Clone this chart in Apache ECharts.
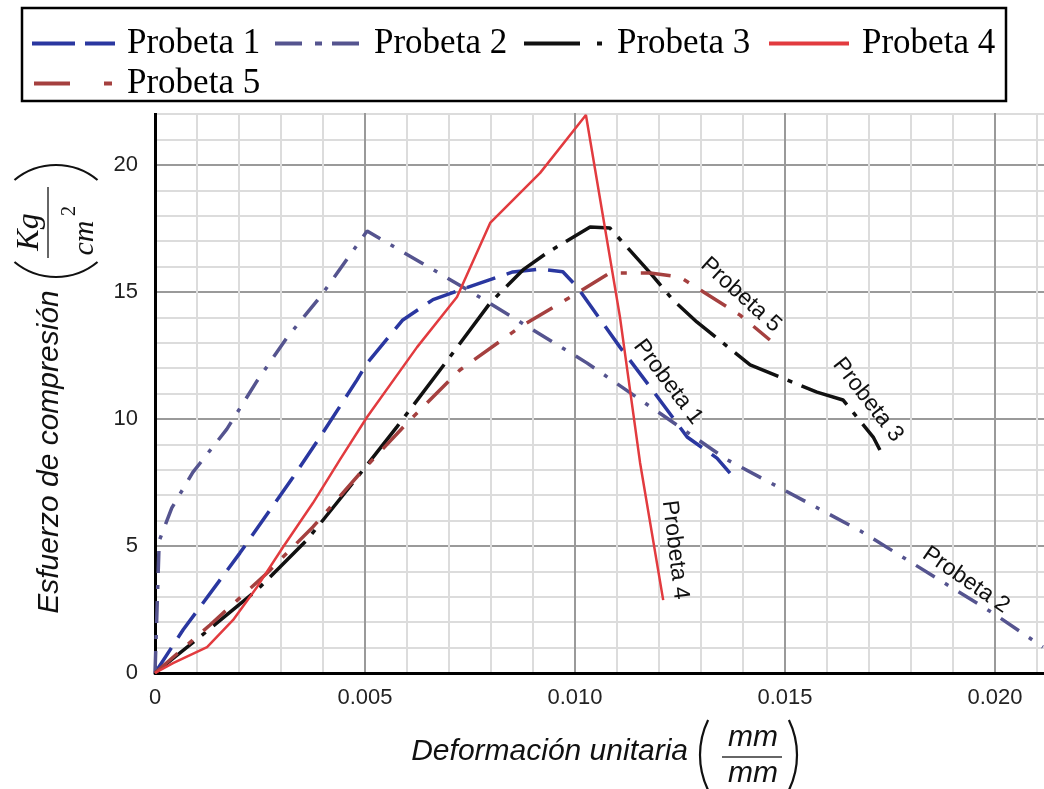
<!DOCTYPE html>
<html>
<head>
<meta charset="utf-8">
<script src="https://cdn.jsdelivr.net/npm/echarts@6/dist/echarts.min.js"></script>
<style>
html,body{margin:0;padding:0;background:#fff;}
#chart{width:1044px;height:789px;}
</style>
</head>
<body>
<div id="chart"></div>
<script>
// ---- Data (strain mm/mm, stress Kg/cm2) ----
const seriesNames = ['Probeta 1','Probeta 2','Probeta 3','Probeta 4','Probeta 5'];
const xTickLabels = ['0','0.005','0.010','0.015','0.020'];
const yTickLabels = ['0','5','10','15','20'];

const probeta1 = [[0,0],[0.00067,1.7],[0.00202,4.72],[0.00329,7.72],[0.00393,9.29],[0.00481,11.54],[0.00505,12.2],[0.0059,13.9],[0.00662,14.7],[0.00726,15.08],[0.00852,15.79],[0.00917,15.9],[0.00971,15.8],[0.01005,15.2],[0.01107,12.83],[0.01179,11.26],[0.01267,9.29],[0.01338,8.46],[0.01369,7.87]];
const probeta2 = [[0,0],[0.0001,5.2],[0.0004,6.5],[0.0009,7.9],[0.00171,9.6],[0.00243,11.5],[0.00314,13.2],[0.00393,14.8],[0.00505,17.4],[0.00757,14.96],[0.01029,12.2],[0.01362,8.4],[0.01679,5.6],[0.01995,2.36],[0.02114,1.02]];
const probeta3 = [[0,0],[0.00107,1.42],[0.00243,3.27],[0.00362,5.24],[0.00471,7.48],[0.00576,9.69],[0.00702,12.44],[0.00798,14.57],[0.00876,15.87],[0.00933,16.54],[0.01036,17.56],[0.01083,17.52],[0.01179,15.75],[0.01233,14.69],[0.0129,13.82],[0.01417,12.13],[0.01576,11.06],[0.01638,10.75],[0.0171,9.29],[0.01726,8.78]];
const probeta4 = [[0,0],[0.00043,0.39],[0.00124,1.02],[0.00186,2.09],[0.00243,3.39],[0.00305,4.96],[0.00376,6.69],[0.0044,8.39],[0.00505,10.08],[0.00624,12.83],[0.00719,14.8],[0.00798,17.72],[0.00917,19.69],[0.01026,21.97],[0.01107,14.02],[0.01155,8.27],[0.0121,2.87]];
const probeta5 = [[0,0],[0.00131,1.89],[0.00267,3.94],[0.00376,5.75],[0.00495,7.99],[0.00607,9.96],[0.00726,11.93],[0.00869,13.62],[0.01005,14.96],[0.01083,15.75],[0.01179,15.75],[0.0125,15.59],[0.01393,14.09],[0.01464,13.11]];

const seriesData = [probeta1, probeta2, probeta3, probeta4, probeta5];
const colors = ['#2a37a0','#55548f','#111111','#e23b3f','#a5403f'];
const widths = [3.5,3.5,3.5,2.5,3.5];
const dashes = [[30,12],[22,12,4,12],[50,10,5,10],'solid',[30,14,6,14]];
const legendDashes = [[43,10,30,100],[27,13,7,10,27,100],[56,17,5,100],[80,100],[36,34,8,100]];
const legendPos = [[30,125,26],[273,372,26],[522,615,26],[767,860,26],[32,125,66]];

const chart = echarts.init(document.getElementById('chart'), null, {renderer:'canvas'});

const sansF = '"Liberation Sans", Arial, sans-serif';
const serifF = '"Liberation Serif", "Times New Roman", serif';

function xFmt(v){
  const i = Math.round(v/0.005);
  if (Math.abs(v - i*0.005) > 1e-9) return '';
  return xTickLabels[i] !== undefined ? xTickLabels[i] : '';
}
function yFmt(v){
  const i = Math.round(v/5);
  if (Math.abs(v - i*5) > 1e-9) return '';
  return yTickLabels[i] !== undefined ? yTickLabels[i] : '';
}

const legends = seriesNames.map((n,i)=>({
  data:[n],
  left: legendPos[i][0],
  top: legendPos[i][2],
  padding: 0,
  itemWidth: legendPos[i][1]-5-legendPos[i][0],
  itemHeight: 14,
  selectedMode: false,
  itemStyle: {opacity: 0, color:'rgba(0,0,0,0)', borderWidth:0},
  lineStyle: {type: legendDashes[i], width: 4},
  textStyle: {fontFamily: serifF, fontSize: 35, color:'#000'}
}));

function txt(text, x, y, rot, font, extra){
  return Object.assign({
    type:'text', x:x, y:y, rotation: rot||0, z: 10,
    style:{text:text, font:font, fill:'#111', align:'center', verticalAlign:'middle'}
  }, extra||{});
}

const D = Math.PI/180;

const option = {
  animation: false,
  backgroundColor: '#fff',
  grid: {left:155, top:38, width:1050, height:635, containLabel:false, outerBoundsMode:'none'},
  legend: legends,
  xAxis: {
    type:'value', min:0, max:0.025, interval:0.005,
    axisLine:{show:true, onZero:false, lineStyle:{color:'#000', width:3}},
    axisTick:{show:false},
    axisLabel:{formatter:xFmt, fontFamily:sansF, fontSize:22, color:'#222', margin:14},
    splitLine:{show:true, lineStyle:{color:'#9a9a9a', width:2}},
    minorTick:{show:false, splitNumber:5},
    minorSplitLine:{show:true, lineStyle:{color:'#dcdcdc', width:2}}
  },
  yAxis: {
    type:'value', min:0, max:25, interval:5,
    axisLine:{show:true, onZero:false, lineStyle:{color:'#000', width:3}},
    axisTick:{show:false},
    axisLabel:{formatter:yFmt, fontFamily:sansF, fontSize:22, color:'#222', margin:17},
    splitLine:{show:true, lineStyle:{color:'#9a9a9a', width:2}},
    minorTick:{show:false, splitNumber:5},
    minorSplitLine:{show:true, lineStyle:{color:'#dcdcdc', width:2}}
  },
  series: seriesNames.map((n,i)=>({
    name:n, type:'line', data: seriesData[i], symbol:'none', showSymbol:false,
    smooth:false, z: 2 + (i===3 ? 1 : 0),
    lineStyle:{color:colors[i], width:widths[i], type:dashes[i]},
    itemStyle:{color:colors[i]}
  })),
  graphic: [
    {type:'rect', z:3, shape:{x:0,y:0,width:1044,height:113}, style:{fill:'#fff'}},
    {type:'rect', z:5, shape:{x:22,y:8,width:984,height:93}, style:{fill:null, stroke:'#000', lineWidth:2.5}},
    txt('Esfuerzo de compresión', 50, 452, Math.PI/2, 'italic 30px '+sansF),
    {type:'group', x:55, y:221, rotation:Math.PI/2, z:10, children:[
      {type:'text', x:-11, y:-25, z:10, style:{text:'Kg', font:'italic 32px '+serifF, fill:'#111', align:'center', verticalAlign:'middle'}},
      {type:'line', z:10, shape:{x1:-37,y1:-7,x2:34,y2:-7}, style:{stroke:'#333', lineWidth:1.5}},
      {type:'text', x:-17, y:30, z:10, style:{text:'cm', font:'italic 30px '+serifF, fill:'#111', align:'center', verticalAlign:'middle'}},
      {type:'text', x:10, y:15, z:10, style:{text:'2', font:'20px '+serifF, fill:'#111', align:'center', verticalAlign:'middle'}}
    ]},
    {type:'arc', z:10, shape:{cx:56, cy:230, r:65, startAngle:-129.7*D, endAngle:-50.3*D, clockwise:true}, style:{stroke:'#111', lineWidth:2.2, fill:null}},
    {type:'arc', z:10, shape:{cx:56, cy:212, r:65, startAngle:50.3*D, endAngle:129.7*D, clockwise:true}, style:{stroke:'#111', lineWidth:2.2, fill:null}},
    {type:'text', x:688, y:752, z:10, style:{text:'Deformación unitaria', font:'italic 30px '+sansF, fill:'#111', align:'right', verticalAlign:'middle'}},
    txt('mm', 753, 738, 0, 'italic 30px '+sansF),
    {type:'line', z:10, shape:{x1:722,y1:757,x2:782,y2:757}, style:{stroke:'#333', lineWidth:1.5}},
    txt('mm', 753, 774, 0, 'italic 30px '+sansF),
    {type:'arc', z:10, shape:{cx:780, cy:755, r:80, startAngle:154*D, endAngle:206*D, clockwise:true}, style:{stroke:'#111', lineWidth:2.2, fill:null}},
    {type:'arc', z:10, shape:{cx:717, cy:755, r:80, startAngle:-26*D, endAngle:26*D, clockwise:true}, style:{stroke:'#111', lineWidth:2.2, fill:null}},
    txt('Probeta 5', 741, 295, -42*D, '23px '+sansF),
    txt('Probeta 1', 668, 382, -53*D, '23px '+sansF),
    txt('Probeta 3', 868, 400, -52*D, '23px '+sansF),
    txt('Probeta 4', 675, 550, -83*D, '23px '+sansF),
    txt('Probeta 2', 966, 580, -34.6*D, '23px '+sansF)
  ]
};
chart.setOption(option);
</script>
</body>
</html>
